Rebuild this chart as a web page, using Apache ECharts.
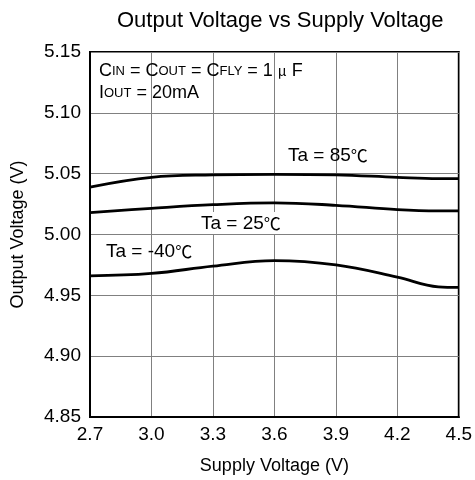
<!DOCTYPE html>
<html><head><meta charset="utf-8">
<script src="https://cdn.jsdelivr.net/npm/echarts@6/dist/echarts.min.js"></script>
<style>html,body{margin:0;padding:0;background:#fff}#c{width:475px;height:480px}</style>
</head><body><div id="c"></div>
<script>
const xTicks = [2.7, 3.0, 3.3, 3.6, 3.9, 4.2, 4.5];
const supply = [2.7, 3.0, 3.3, 3.6, 3.9, 4.2, 4.4, 4.5];
const ta85 = [5.039, 5.047, 5.049, 5.0495, 5.049, 5.047, 5.046, 5.046];
const ta25 = [5.018, 5.0215, 5.0245, 5.026, 5.024, 5.0205, 5.0195, 5.0195];
const taM40 = [4.966, 4.968, 4.974, 4.9785, 4.975, 4.965, 4.957, 4.9565];
const font = 'Liberation Sans, Arial, sans-serif';
const cjk = 'Noto Sans CJK JP';
const chart = echarts.init(document.getElementById('c'), null, {renderer:'canvas'});
function mk(vals){ return supply.map((x,i)=>[x, vals[i]]); }
function line(name, vals){
  return {name, type:'line', data: mk(vals), smooth:0.4, symbol:'none',
    lineStyle:{color:'#000', width:2.8}, z:3};
}
const rich = {n:{fontFamily:font, fontSize:19}, c:{fontFamily:cjk, fontSize:17}};
chart.setOption({
  animation:false,
  title:{text:'Output Voltage vs Supply Voltage', left:112, top:5,
    textStyle:{fontFamily:font, fontSize:22, fontWeight:'normal', color:'#000'}},
  grid:{left:90, right:15, top:52, bottom:60, show:true, borderColor:'#000', borderWidth:2, backgroundColor:'transparent'},
  xAxis:{type:'value', min:2.7, max:4.5, interval:0.3,
    axisLine:{show:true, lineStyle:{color:'#000', width:2}}, axisTick:{show:false},
    splitLine:{show:true, lineStyle:{color:'#808080', width:1}},
    axisLabel:{fontFamily:font, fontSize:19, color:'#000', margin:8, formatter:v=>v.toFixed(1)},
    name:'Supply Voltage (V)', nameLocation:'middle', nameGap:40,
    nameTextStyle:{fontFamily:font, fontSize:18, color:'#000'}},
  yAxis:{type:'value', min:4.85, max:5.15, interval:0.05,
    axisLine:{show:true, lineStyle:{color:'#000', width:2}}, axisTick:{show:false},
    splitLine:{show:true, lineStyle:{color:'#808080', width:1}},
    axisLabel:{fontFamily:font, fontSize:19, color:'#000', margin:9, formatter:v=>v.toFixed(2)},
    name:'Output Voltage (V)', nameLocation:'middle', nameGap:63,
    nameTextStyle:{fontFamily:font, fontSize:18, color:'#000'}},
  series:[line('85', ta85), line('25', ta25), line('-40', taM40)],
  graphic:[
    {type:'text', left:99, top:60, z:10, style:{
      text:'{n|C}{s|IN}{n| = C}{s|OUT}{n| = C}{s|FLY}{n| = 1 }{u|μ}{n| F}\n{n|I}{s|OUT}{n| = 20mA}',
      fill:'#000', lineHeight:22,
      rich:{n:{fontFamily:font, fontSize:18, lineHeight:22}, s:{fontFamily:font, fontSize:13, lineHeight:22},
            u:{fontFamily:cjk, fontSize:14, lineHeight:22}}}},
    {type:'text', left:288, top:146, z:10, style:{text:'{n|Ta = 85}{c|℃}', rich, fill:'#000'}},
    {type:'text', left:199, top:212, z:10, style:{
      text:'{n|Ta = 25}{c|℃}', backgroundColor:'#fff', padding:[2,2,1,2], rich, fill:'#000'}},
    {type:'text', left:106, top:242, z:10, style:{text:'{n|Ta = -40}{c|℃}', rich, fill:'#000'}}
  ]
});
</script></body></html>
